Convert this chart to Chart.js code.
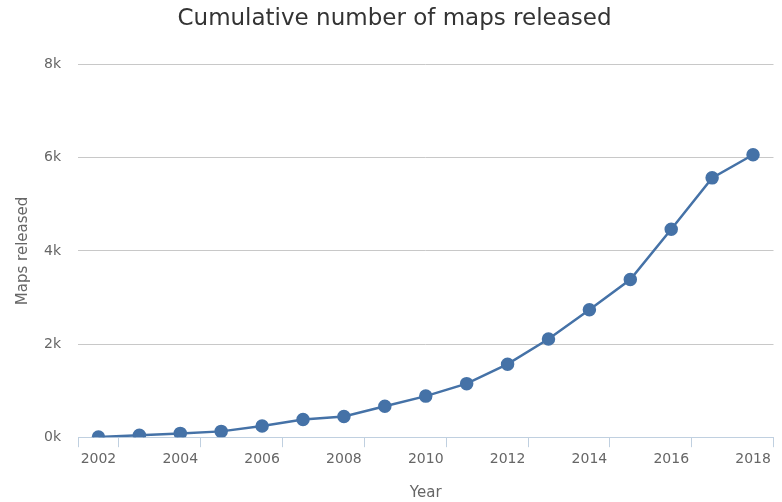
<!DOCTYPE html>
<html>
<head>
<meta charset="utf-8">
<script src="https://cdn.jsdelivr.net/npm/chart.js@4/dist/chart.umd.min.js"></script>
<style>
    html, body { margin: 0; padding: 0; background: #ffffff; }
    #wrap { width: 782px; height: 502px; }
</style>
</head>
<body>
<div id="wrap"><canvas id="mapsChart"></canvas></div>
<script>
const years = ["2002", "2003", "2004", "2005", "2006", "2007", "2008", "2009", "2010",
    "2011", "2012", "2013", "2014", "2015", "2016", "2017", "2018"];
const mapsReleased = [5, 40, 82, 125, 242, 378, 443, 666, 882,
    1150, 1568, 2108, 2735, 3384, 4465, 5568, 6065];
const yTicks = [0, 2000, 4000, 6000, 8000];

const FONT = "'DejaVu Sans', Verdana, sans-serif";
const axisBlue = "#C0D0E0";

const ctx = document.getElementById("mapsChart").getContext("2d");

new Chart(ctx, {
    type: "line",
    data: {
        labels: years,
        datasets: [
            {
                label: "Maps released",
                data: mapsReleased,
                borderColor: "#4572A7",
                backgroundColor: "#4572A7",
                borderWidth: 2.5,
                pointRadius: 5.5,
                pointHoverRadius: 6,
                tension: 0,
            },
        ],
    },
    options: {
        responsive: true,
        maintainAspectRatio: false,
        animation: false,
        layout: {
            padding: { left: 14, right: 7, top: 0, bottom: 0 },
        },
        plugins: {
            legend: { display: false },
            tooltip: { enabled: false },
            title: {
                display: true,
                text: "Cumulative number of maps released",
                color: "#333333",
                font: { family: FONT, size: 23, weight: "normal" },
                padding: { top: 5, bottom: 32 },
            },
        },
        scales: {
            x: {
                type: "category",
                offset: true,
                border: { display: true, color: axisBlue, width: 1 },
                grid: {
                    offset: true,
                    drawOnChartArea: false,
                    drawTicks: true,
                    tickLength: 10,
                    // tick marks only every other boundary, like the original
                    color: (c) => (c.index === undefined || c.index === 0 || c.index % 2 === 1)
                        ? axisBlue : "rgba(0,0,0,0)",
                },
                ticks: {
                    autoSkip: false,
                    maxRotation: 0,
                    padding: 4,
                    color: "#666666",
                    font: { family: FONT, size: 14 },
                    callback: (val, i) => (i % 2 === 0 ? years[i] : ""),
                },
                title: {
                    display: true,
                    text: "Year",
                    color: "#666666",
                    font: { family: FONT, size: 15 },
                    padding: { top: 12, bottom: 0 },
                },
            },
            y: {
                min: 0,
                max: 8000,
                afterBuildTicks: (scale) => {
                    scale.ticks = yTicks.map((v) => ({ value: v }));
                },
                afterFit: (scale) => {
                    scale.width = 64;
                },
                border: { display: false },
                grid: {
                    color: (c) => (c.tick && c.tick.value === 0 ? "rgba(0,0,0,0)" : "#C8C8C8"),
                    drawTicks: false,
                },
                ticks: {
                    padding: 17,
                    color: "#666666",
                    font: { family: FONT, size: 14 },
                    callback: (v) => v / 1000 + "k",
                },
                title: {
                    display: true,
                    text: "Maps released",
                    color: "#666666",
                    font: { family: FONT, size: 15 },
                    padding: { top: 0, bottom: 0 },
                },
            },
        },
    },
});
</script>
</body>
</html>
